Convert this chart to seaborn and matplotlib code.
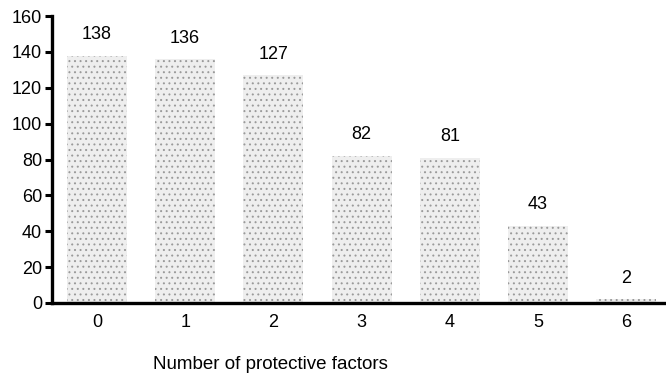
import matplotlib
matplotlib.use("Agg")
import matplotlib.pyplot as plt
import seaborn as sns
import pandas as pd

# Number of protective factors and count of cases
factors = ["0", "1", "2", "3", "4", "5", "6"]
counts = [138, 136, 127, 82, 81, 43, 2]

df = pd.DataFrame({"factors": factors, "counts": counts})

sns.set_style("white")
plt.rcParams["font.family"] = ["Liberation Sans", "DejaVu Sans"]
plt.rcParams["hatch.linewidth"] = 0.7
plt.rcParams["text.color"] = "black"
plt.rcParams["xtick.color"] = "black"
plt.rcParams["ytick.color"] = "black"

fig = plt.figure(figsize=(6.66, 3.74), dpi=100)
ax = fig.add_axes([0.078, 0.19, 0.922, 0.767])

sns.barplot(data=df, x="factors", y="counts", color="#eeeeee",
            width=0.68, saturation=1, ax=ax)
# stippled look of the scanned bars
for bar in ax.patches:
    bar.set_hatch("...")
    bar.set_edgecolor("#9a9a9a")
    bar.set_linewidth(0)

# value labels above bars
for i, v in enumerate(counts):
    ax.text(i, v + 7, str(v), ha="center", va="bottom", fontsize=13)

ax.set_ylim(0, 160)
ax.set_yticks(range(0, 161, 20))
ax.set_xlim(-0.51, 6.45)
ax.set_xlabel("")
ax.set_ylabel("")

sns.despine(ax=ax)
for side in ["left", "bottom"]:
    ax.spines[side].set_linewidth(2.4)
    ax.spines[side].set_color("black")
ax.tick_params(axis="y", direction="out", length=5, width=2.2, labelsize=13,
               left=True, pad=2)
ax.tick_params(axis="x", length=0, labelsize=13, pad=8)

fig.text(153 / 666, 1 - 369 / 374, "Number of protective factors",
         ha="left", va="baseline", fontsize=13.5)

fig.savefig("out.png", dpi=100)
